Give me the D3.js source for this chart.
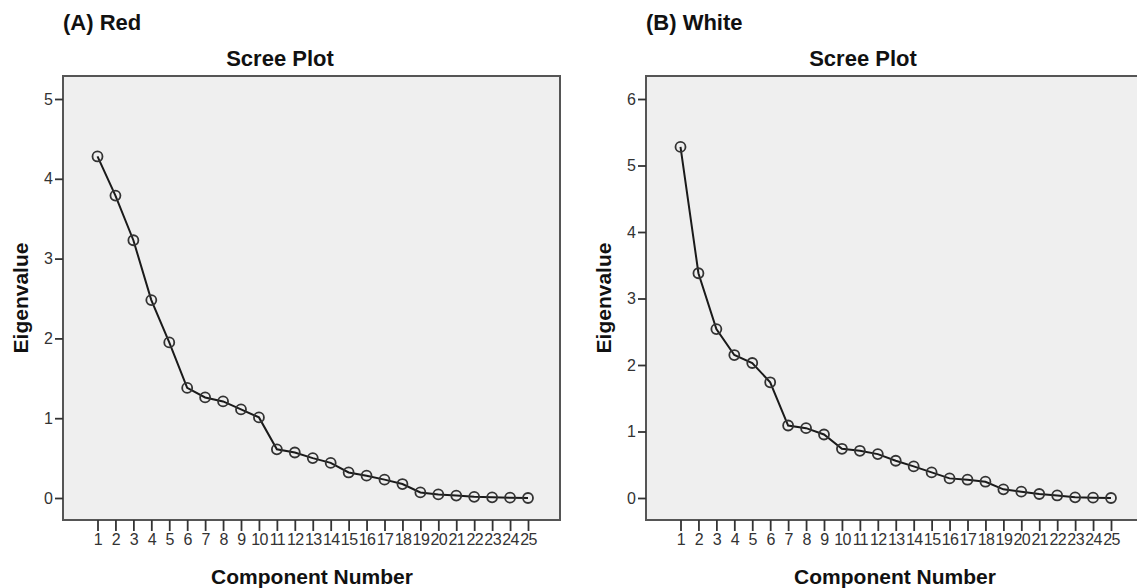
<!DOCTYPE html>
<html>
<head>
<meta charset="utf-8">
<script src="https://cdn.jsdelivr.net/npm/d3@7"></script>
<style>
  body { margin: 0; background: #fff; }
  svg text { font-family: "Liberation Sans", Arial, sans-serif; }
</style>
</head>
<body>
<script>
// component numbers 1..25
var components = d3.range(1, 26);

// eigenvalues
var redEigen = [4.28, 3.79, 3.23, 2.48, 1.95, 1.38, 1.26, 1.21, 1.11, 1.01,
                0.61, 0.57, 0.50, 0.44, 0.32, 0.28, 0.23, 0.175, 0.07, 0.045,
                0.03, 0.015, 0.008, 0.004, 0.0];
var whiteEigen = [5.28, 3.38, 2.54, 2.15, 2.03, 1.74, 1.09, 1.05, 0.955, 0.74,
                  0.71, 0.66, 0.56, 0.475, 0.385, 0.295, 0.275, 0.245, 0.13, 0.095,
                  0.06, 0.038, 0.01, 0.005, 0.0];

var redTicks = [0, 1, 2, 3, 4, 5];
var whiteTicks = [0, 1, 2, 3, 4, 5, 6];

var panelTitles = ["(A) Red", "(B) White"];

var width = 1137, height = 588;

var svg = d3.select("body").append("svg")
    .attr("width", width)
    .attr("height", height);

drawPanel({left: 63, title: panelTitles[0], values: redEigen, ticks: redTicks, yMax: 5, yTop: 99});
drawPanel({left: 646, title: panelTitles[1], values: whiteEigen, ticks: whiteTicks, yMax: 6, yTop: 99});

function drawPanel(p) {
  var top = 76, bottom = 520, w = 497;
  var g = svg.append("g");

  // zero sits at y=498, top tick at yTop
  var y = d3.scaleLinear()
      .domain([0, p.yMax])
      .range([498, p.yTop]);

  var x = d3.scaleLinear()
      .domain([1, 25])
      .range([p.left + 34.5, p.left + 465]);

  g.append("text")
      .attr("x", p.left)
      .attr("y", 22)
      .attr("dominant-baseline", "central")
      .style("font-size", "22px")
      .style("font-weight", "bold")
      .attr("fill", "#111")
      .text(p.title);

  g.append("text")
      .attr("x", p.left + 217)
      .attr("y", 58)
      .attr("text-anchor", "middle")
      .attr("dominant-baseline", "central")
      .style("font-size", "22px")
      .style("font-weight", "bold")
      .attr("fill", "#111")
      .text("Scree Plot");

  g.append("rect")
      .attr("x", p.left)
      .attr("y", top)
      .attr("width", w)
      .attr("height", bottom - top)
      .attr("fill", "#efefef")
      .attr("stroke", "#555")
      .attr("stroke-width", 2);

  var yAxis = g.append("g")
      .attr("transform", "translate(" + p.left + ",0)")
      .call(d3.axisLeft(y).tickValues(p.ticks).tickSize(8).tickPadding(2).tickFormat(d3.format("d")));
  yAxis.select(".domain").remove();
  yAxis.selectAll("line").attr("stroke", "#333").attr("stroke-width", 1.8);
  yAxis.selectAll("text")
      .style("font-size", "16px")
      .attr("fill", "#333");

  var xAxis = g.append("g")
      .attr("transform", "translate(0," + bottom + ")")
      .call(d3.axisBottom(x).tickValues(components).tickSize(11).tickPadding(3).tickFormat(d3.format("d")));
  xAxis.select(".domain").remove();
  xAxis.selectAll("line").attr("stroke", "#333").attr("stroke-width", 1.8);
  xAxis.selectAll("text")
      .style("font-size", "16px")
      .style("letter-spacing", "-0.6px")
      .attr("fill", "#333");

  g.append("text")
      .attr("transform", "translate(" + (p.left - 43) + ",298) rotate(-90)")
      .attr("text-anchor", "middle")
      .attr("dominant-baseline", "central")
      .style("font-size", "21px")
      .style("font-weight", "bold")
      .attr("fill", "#111")
      .text("Eigenvalue");

  g.append("text")
      .attr("x", p.left + 249)
      .attr("y", 576)
      .attr("text-anchor", "middle")
      .attr("dominant-baseline", "central")
      .style("font-size", "21px")
      .style("font-weight", "bold")
      .attr("fill", "#111")
      .text("Component Number");

  var line = d3.line()
      .x(function(d, i) { return x(components[i]); })
      .y(function(d) { return y(d); });

  g.append("path")
      .datum(p.values)
      .attr("d", line)
      .attr("fill", "none")
      .attr("stroke", "#1a1a1a")
      .attr("stroke-width", 2);

  g.selectAll(".pt")
      .data(p.values)
    .enter().append("circle")
      .attr("class", "pt")
      .attr("cx", function(d, i) { return x(components[i]); })
      .attr("cy", function(d) { return y(d); })
      .attr("r", 5)
      .attr("fill", "none")
      .attr("stroke", "#333")
      .attr("stroke-width", 1.8);
}
</script>
</body>
</html>
